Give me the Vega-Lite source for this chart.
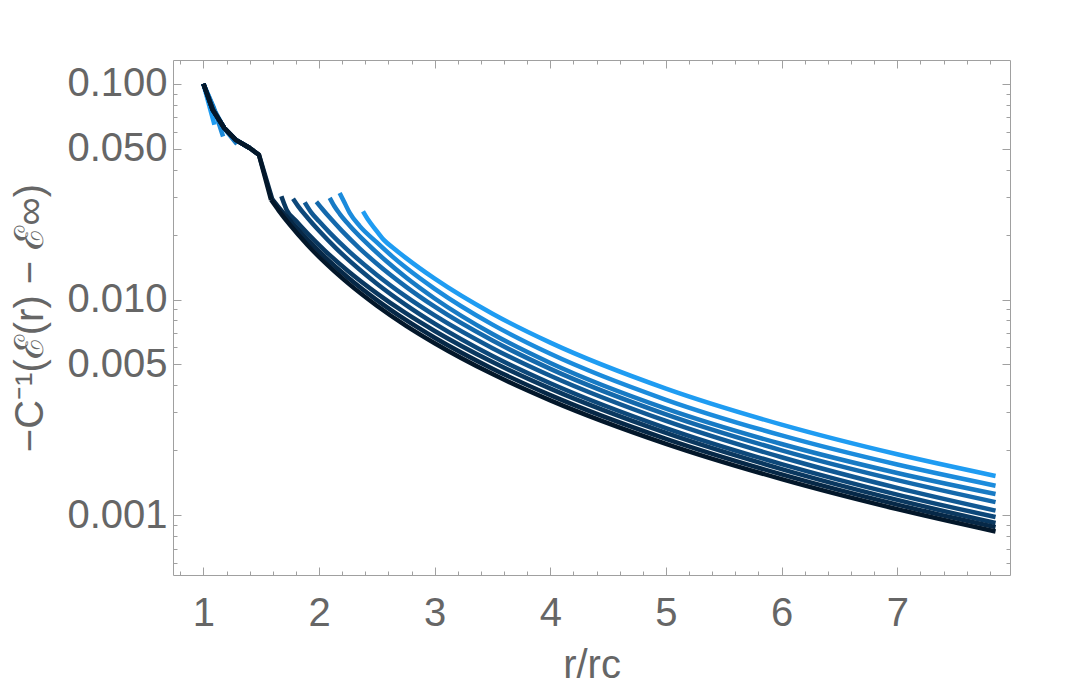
{
  "$schema": "https://vega.github.io/schema/vega-lite/v6.json",
  "width": 837,
  "height": 515,
  "autosize": {"type": "none"},
  "padding": {"left": 173, "top": 60, "right": 70, "bottom": 119},
  "background": "white",
  "config": {
    "view": {"stroke": "#a0a0a0", "strokeWidth": 1},
    "axis": {
      "grid": false,
      "domain": false,
      "labelFont": "Liberation Sans",
      "titleFont": "Liberation Sans",
      "labelColor": "#666666",
      "titleColor": "#666666",
      "labelFontSize": 40,
      "titleFontSize": 40,
      "titleFontWeight": "normal",
      "tickColor": "#a0a0a0",
      "tickWidth": 1
    }
  },
  "datasets": {
    "top": [
      {"c": "c1", "r": 1.0, "v": 0.1}, {"c": "c1", "r": 1.095, "v": 0.0646},
      {"c": "c2", "r": 1.0, "v": 0.1}, {"c": "c2", "r": 1.09, "v": 0.0775}, {"c": "c2", "r": 1.17, "v": 0.057},
      {"c": "c3", "r": 1.0, "v": 0.1}, {"c": "c3", "r": 1.09, "v": 0.0765}, {"c": "c3", "r": 1.18, "v": 0.0622}, {"c": "c3", "r": 1.29, "v": 0.0525},
      {"c": "c4", "r": 1.0, "v": 0.1}, {"c": "c4", "r": 1.08, "v": 0.0758}, {"c": "c4", "r": 1.18, "v": 0.0624}, {"c": "c4", "r": 1.28, "v": 0.055}, {"c": "c4", "r": 1.4, "v": 0.0504},
      {"c": "c5", "r": 1.0, "v": 0.1}, {"c": "c5", "r": 1.08, "v": 0.0758}, {"c": "c5", "r": 1.18, "v": 0.0624}, {"c": "c5", "r": 1.28, "v": 0.055}, {"c": "c5", "r": 1.4, "v": 0.0504},
      {"c": "c6", "r": 1.0, "v": 0.1}, {"c": "c6", "r": 1.08, "v": 0.0758}, {"c": "c6", "r": 1.18, "v": 0.0624}, {"c": "c6", "r": 1.28, "v": 0.055}, {"c": "c6", "r": 1.4, "v": 0.0504},
      {"c": "c7", "r": 1.0, "v": 0.1}, {"c": "c7", "r": 1.08, "v": 0.0758}, {"c": "c7", "r": 1.18, "v": 0.0624}, {"c": "c7", "r": 1.28, "v": 0.055}, {"c": "c7", "r": 1.4, "v": 0.0504}, {"c": "c7", "r": 1.48, "v": 0.0469},
      {"c": "c8", "r": 1.0, "v": 0.1}, {"c": "c8", "r": 1.08, "v": 0.0758}, {"c": "c8", "r": 1.18, "v": 0.0624}, {"c": "c8", "r": 1.28, "v": 0.055}, {"c": "c8", "r": 1.4, "v": 0.0504}, {"c": "c8", "r": 1.48, "v": 0.0469}, {"c": "c8", "r": 1.595, "v": 0.0292},
      {"c": "c9", "r": 1.0, "v": 0.1}, {"c": "c9", "r": 1.08, "v": 0.0758}, {"c": "c9", "r": 1.18, "v": 0.0624}, {"c": "c9", "r": 1.28, "v": 0.055}, {"c": "c9", "r": 1.4, "v": 0.0504}, {"c": "c9", "r": 1.48, "v": 0.0469}, {"c": "c9", "r": 1.585, "v": 0.029}
    ],
    "bot": [
      {"c": "c1", "r": 2.38, "v": 0.0256}, {"c": "c1", "r": 2.42, "v": 0.0236}, {"c": "c1", "r": 2.48, "v": 0.0214}, {"c": "c1", "r": 2.56, "v": 0.0189}, {"c": "c1", "r": 2.65, "v": 0.0172}, {"c": "c1", "r": 2.75, "v": 0.0156}, {"c": "c1", "r": 3.0, "v": 0.01249}, {"c": "c1", "r": 3.5, "v": 0.00859}, {"c": "c1", "r": 4.0, "v": 0.00631}, {"c": "c1", "r": 5.0, "v": 0.003863}, {"c": "c1", "r": 6.0, "v": 0.00263}, {"c": "c1", "r": 7.0, "v": 0.001916}, {"c": "c1", "r": 7.85, "v": 0.00152},
      {"c": "c2", "r": 2.178, "v": 0.0312}, {"c": "c2", "r": 2.222, "v": 0.028}, {"c": "c2", "r": 2.265, "v": 0.0252}, {"c": "c2", "r": 2.352, "v": 0.0219}, {"c": "c2", "r": 2.495, "v": 0.0185}, {"c": "c2", "r": 2.64, "v": 0.01573}, {"c": "c2", "r": 2.75, "v": 0.01407}, {"c": "c2", "r": 3.0, "v": 0.01121}, {"c": "c2", "r": 3.5, "v": 0.00765}, {"c": "c2", "r": 4.0, "v": 0.0056}, {"c": "c2", "r": 5.0, "v": 0.003429}, {"c": "c2", "r": 6.0, "v": 0.002343}, {"c": "c2", "r": 7.0, "v": 0.001717}, {"c": "c2", "r": 7.85, "v": 0.00137},
      {"c": "c3", "r": 2.092, "v": 0.0296}, {"c": "c3", "r": 2.13, "v": 0.0272}, {"c": "c3", "r": 2.18, "v": 0.0249}, {"c": "c3", "r": 2.265, "v": 0.022}, {"c": "c3", "r": 2.41, "v": 0.0183}, {"c": "c3", "r": 2.583, "v": 0.01504}, {"c": "c3", "r": 2.75, "v": 0.01268}, {"c": "c3", "r": 3.0, "v": 0.01011}, {"c": "c3", "r": 3.5, "v": 0.00692}, {"c": "c3", "r": 4.0, "v": 0.00508}, {"c": "c3", "r": 5.0, "v": 0.00312}, {"c": "c3", "r": 6.0, "v": 0.002138}, {"c": "c3", "r": 7.0, "v": 0.001569}, {"c": "c3", "r": 7.85, "v": 0.001253},
      {"c": "c4", "r": 1.977, "v": 0.0284}, {"c": "c4", "r": 2.03, "v": 0.02622}, {"c": "c4", "r": 2.1, "v": 0.02372}, {"c": "c4", "r": 2.2, "v": 0.02075}, {"c": "c4", "r": 2.35, "v": 0.01728}, {"c": "c4", "r": 2.5, "v": 0.01465}, {"c": "c4", "r": 2.75, "v": 0.01148}, {"c": "c4", "r": 3.0, "v": 0.00926}, {"c": "c4", "r": 3.5, "v": 0.00645}, {"c": "c4", "r": 4.0, "v": 0.00477}, {"c": "c4", "r": 5.0, "v": 0.002934}, {"c": "c4", "r": 6.0, "v": 0.001999}, {"c": "c4", "r": 7.0, "v": 0.001454}, {"c": "c4", "r": 7.85, "v": 0.00115},
      {"c": "c5", "r": 1.876, "v": 0.0282}, {"c": "c5", "r": 1.93, "v": 0.02543}, {"c": "c5", "r": 2.0, "v": 0.02305}, {"c": "c5", "r": 2.1, "v": 0.02022}, {"c": "c5", "r": 2.25, "v": 0.0169}, {"c": "c5", "r": 2.5, "v": 0.013}, {"c": "c5", "r": 2.75, "v": 0.01034}, {"c": "c5", "r": 3.0, "v": 0.00844}, {"c": "c5", "r": 3.5, "v": 0.00595}, {"c": "c5", "r": 4.0, "v": 0.00443}, {"c": "c5", "r": 5.0, "v": 0.002734}, {"c": "c5", "r": 6.0, "v": 0.001856}, {"c": "c5", "r": 7.0, "v": 0.001338}, {"c": "c5", "r": 7.85, "v": 0.00105},
      {"c": "c6", "r": 1.775, "v": 0.0293}, {"c": "c6", "r": 1.82, "v": 0.02702}, {"c": "c6", "r": 1.9, "v": 0.02394}, {"c": "c6", "r": 2.0, "v": 0.02082}, {"c": "c6", "r": 2.15, "v": 0.01722}, {"c": "c6", "r": 2.35, "v": 0.01377}, {"c": "c6", "r": 2.5, "v": 0.01184}, {"c": "c6", "r": 2.75, "v": 0.00945}, {"c": "c6", "r": 3.0, "v": 0.00773}, {"c": "c6", "r": 3.5, "v": 0.00547}, {"c": "c6", "r": 4.0, "v": 0.00409}, {"c": "c6", "r": 5.0, "v": 0.002535}, {"c": "c6", "r": 6.0, "v": 0.001725}, {"c": "c6", "r": 7.0, "v": 0.001246}, {"c": "c6", "r": 7.85, "v": 0.00098},
      {"c": "c7", "r": 1.674, "v": 0.0301}, {"c": "c7", "r": 1.72, "v": 0.02603}, {"c": "c7", "r": 1.8, "v": 0.02317}, {"c": "c7", "r": 1.9, "v": 0.02026}, {"c": "c7", "r": 2.05, "v": 0.01686}, {"c": "c7", "r": 2.25, "v": 0.01356}, {"c": "c7", "r": 2.5, "v": 0.01068}, {"c": "c7", "r": 2.75, "v": 0.00864}, {"c": "c7", "r": 3.0, "v": 0.00715}, {"c": "c7", "r": 3.5, "v": 0.00513}, {"c": "c7", "r": 4.0, "v": 0.00386}, {"c": "c7", "r": 5.0, "v": 0.002407}, {"c": "c7", "r": 6.0, "v": 0.001636}, {"c": "c7", "r": 7.0, "v": 0.001177}, {"c": "c7", "r": 7.85, "v": 0.00092},
      {"c": "c8", "r": 1.595, "v": 0.0292}, {"c": "c8", "r": 1.65, "v": 0.02683}, {"c": "c8", "r": 1.75, "v": 0.02323}, {"c": "c8", "r": 1.9, "v": 0.01897}, {"c": "c8", "r": 2.05, "v": 0.01577}, {"c": "c8", "r": 2.25, "v": 0.01265}, {"c": "c8", "r": 2.5, "v": 0.00994}, {"c": "c8", "r": 2.75, "v": 0.00804}, {"c": "c8", "r": 3.0, "v": 0.00665}, {"c": "c8", "r": 3.5, "v": 0.00478}, {"c": "c8", "r": 4.0, "v": 0.003602}, {"c": "c8", "r": 5.0, "v": 0.002259}, {"c": "c8", "r": 6.0, "v": 0.001546}, {"c": "c8", "r": 7.0, "v": 0.001119}, {"c": "c8", "r": 7.85, "v": 0.00088},
      {"c": "c9", "r": 1.585, "v": 0.029}, {"c": "c9", "r": 1.65, "v": 0.02592}, {"c": "c9", "r": 1.75, "v": 0.02212}, {"c": "c9", "r": 1.9, "v": 0.0179}, {"c": "c9", "r": 2.05, "v": 0.01485}, {"c": "c9", "r": 2.25, "v": 0.01191}, {"c": "c9", "r": 2.5, "v": 0.00936}, {"c": "c9", "r": 2.75, "v": 0.00757}, {"c": "c9", "r": 3.0, "v": 0.00627}, {"c": "c9", "r": 3.5, "v": 0.00451}, {"c": "c9", "r": 4.0, "v": 0.003408}, {"c": "c9", "r": 5.0, "v": 0.002143}, {"c": "c9", "r": 6.0, "v": 0.00147}, {"c": "c9", "r": 7.0, "v": 0.001067}, {"c": "c9", "r": 7.85, "v": 0.00084}
    ]
  },
  "layer": [
    {
      "data": {"name": "top"},
      "mark": {"type": "line", "strokeWidth": 4.5, "interpolate": "linear", "strokeCap": "butt", "strokeJoin": "round"},
      "encoding": {
        "x": {"field": "r", "type": "quantitative", "scale": {"domain": [0.737, 7.975], "nice": false, "zero": false}, "axis": null},
        "y": {"field": "v", "type": "quantitative", "scale": {"type": "log", "domain": [0.000528, 0.129], "nice": false}, "axis": null},
        "color": {"field": "c", "type": "nominal", "legend": null, "scale": {"domain": ["c1", "c2", "c3", "c4", "c5", "c6", "c7", "c8", "c9"], "range": ["#1f9cf2", "#1b8bdc", "#177ac4", "#1469ac", "#115994", "#0d487a", "#0a3860", "#062847", "#03172a"]}}
      }
    },
    {
      "data": {"name": "bot"},
      "mark": {"type": "line", "strokeWidth": 4.5, "interpolate": "monotone", "strokeCap": "butt", "strokeJoin": "round"},
      "encoding": {
        "x": {"field": "r", "type": "quantitative", "axis": {"orient": "bottom", "values": [1, 2, 3, 4, 5, 6, 7], "ticks": false, "tickSize": 0, "labelPadding": 18, "title": "r/rc", "titlePadding": 12}},
        "y": {"field": "v", "type": "quantitative", "axis": {"orient": "left", "values": [0.001, 0.005, 0.01, 0.05, 0.1], "format": ".3f", "ticks": false, "tickSize": 0, "labelPadding": 6, "title": "−C⁻¹(ℰ(r) − ℰ∞)", "titlePadding": 16}},
        "color": {"field": "c", "type": "nominal", "legend": null}
      }
    },
    {
      "data": {"name": "bot"},
      "mark": {"type": "point", "opacity": 0},
      "encoding": {
        "x": {"field": "r", "type": "quantitative", "axis": {"orient": "bottom", "values": [1, 2, 3, 4, 5, 6, 7], "tickSize": -8, "labels": false, "title": null}},
        "y": {"field": "v", "type": "quantitative", "axis": {"orient": "left", "values": [0.001, 0.005, 0.01, 0.05, 0.1], "tickSize": -8, "labels": false, "title": null}}
      }
    },
    {
      "data": {"name": "bot"},
      "mark": {"type": "point", "opacity": 0},
      "encoding": {
        "x": {"field": "r", "type": "quantitative", "axis": {"orient": "bottom", "values": [0.8, 1.2, 1.4, 1.6, 1.8, 2.2, 2.4, 2.6, 2.8, 3.2, 3.4, 3.6, 3.8, 4.2, 4.4, 4.6, 4.8, 5.2, 5.4, 5.6, 5.8, 6.2, 6.4, 6.6, 6.8, 7.2, 7.4, 7.6, 7.8], "tickSize": -4, "labels": false, "title": null}},
        "y": {"field": "v", "type": "quantitative", "axis": {"orient": "left", "values": [0.0006, 0.0007, 0.0008, 0.0009, 0.002, 0.003, 0.004, 0.006, 0.007, 0.008, 0.009, 0.02, 0.03, 0.04, 0.06, 0.07, 0.08, 0.09], "tickSize": -4, "labels": false, "title": null}}
      }
    },
    {
      "data": {"name": "bot"},
      "mark": {"type": "point", "opacity": 0},
      "encoding": {
        "x": {"field": "r", "type": "quantitative", "axis": {"orient": "top", "values": [1, 2, 3, 4, 5, 6, 7], "tickSize": -8, "labels": false, "title": null}},
        "y": {"field": "v", "type": "quantitative", "axis": {"orient": "right", "values": [0.001, 0.005, 0.01, 0.05, 0.1], "tickSize": -8, "labels": false, "title": null}}
      }
    },
    {
      "data": {"name": "bot"},
      "mark": {"type": "point", "opacity": 0},
      "encoding": {
        "x": {"field": "r", "type": "quantitative", "axis": {"orient": "top", "values": [0.8, 1.2, 1.4, 1.6, 1.8, 2.2, 2.4, 2.6, 2.8, 3.2, 3.4, 3.6, 3.8, 4.2, 4.4, 4.6, 4.8, 5.2, 5.4, 5.6, 5.8, 6.2, 6.4, 6.6, 6.8, 7.2, 7.4, 7.6, 7.8], "tickSize": -4, "labels": false, "title": null}},
        "y": {"field": "v", "type": "quantitative", "axis": {"orient": "right", "values": [0.0006, 0.0007, 0.0008, 0.0009, 0.002, 0.003, 0.004, 0.006, 0.007, 0.008, 0.009, 0.02, 0.03, 0.04, 0.06, 0.07, 0.08, 0.09], "tickSize": -4, "labels": false, "title": null}}
      }
    }
  ],
  "resolve": {"axis": {"x": "independent", "y": "independent"}}
}
